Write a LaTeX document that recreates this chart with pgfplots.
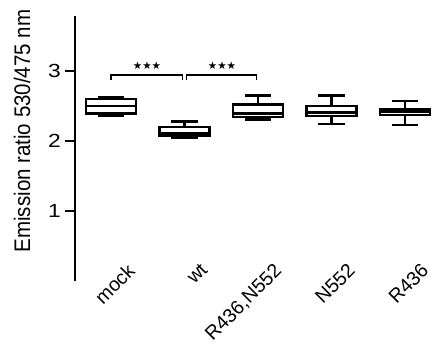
\documentclass[border=0pt]{standalone}
\usepackage{pgfplots}
\pgfplotsset{compat=1.18}
\usepgfplotslibrary{statistics}
\usepackage{fontspec}
\setmainfont{Liberation Sans}
\newfontfamily\symfont{DejaVu Sans}

\begin{document}
\begin{tikzpicture}
\begin{axis}[
  scale only axis, width=366.75pt, height=264.6pt,
  xmin=-0.49, xmax=4.5, ymin=0, ymax=3.78,
  axis y line*=left, axis x line*=bottom,
  x axis line style={draw=none},
  y axis line style={line width=2.2pt, -},
  ytick={1,2,3}, xtick={0,1,2,3,4},
  xticklabels={mock,wt,{R436,N552},N552,R436},
  tick align=outside, major tick length=10pt,
  ytick style={line width=2.2pt, black},
  xtick style={draw=none},
  /pgf/number format/assume math mode=true,
  yticklabel style={font=\fontsize{19}{19}\selectfont, inner sep=0pt, anchor=east, xshift=-4pt, xscale=1.2},
  xticklabel style={font=\fontsize{19.5}{19.5}\selectfont, inner sep=0pt, anchor=north east, xshift=15pt, yshift=29pt, rotate=45},
  ylabel={Emission ratio 530/475 nm},
  every axis y label/.style={at={(rel axis cs:0,0.567)}, xshift=-53pt, anchor=center, rotate=90, yscale=1.1, font=\fontsize{20.5}{20.5}\selectfont},
  boxplot/draw direction=y,
  boxplot/box extend=0.68,
  boxplot/whisker extend=0.36,
]
\addplot[boxplot prepared={draw position=0, lower whisker=2.36, lower quartile=2.39, median=2.50, upper quartile=2.60, upper whisker=2.63}, draw=black, fill=white, line width=2.5pt] coordinates {};
\addplot[boxplot prepared={draw position=1, lower whisker=2.05, lower quartile=2.07, median=2.11, upper quartile=2.20, upper whisker=2.28}, draw=black, fill=white, line width=2.5pt] coordinates {};
\addplot[boxplot prepared={draw position=2, lower whisker=2.31, lower quartile=2.34, median=2.39, upper quartile=2.52, upper whisker=2.65}, draw=black, fill=white, line width=2.5pt] coordinates {};
\addplot[boxplot prepared={draw position=3, lower whisker=2.24, lower quartile=2.36, median=2.41, upper quartile=2.50, upper whisker=2.65}, draw=black, fill=white, line width=2.5pt] coordinates {};
\addplot[boxplot prepared={draw position=4, lower whisker=2.23, lower quartile=2.37, median=2.42, upper quartile=2.46, upper whisker=2.57}, draw=black, fill=white, line width=2.5pt] coordinates {};
\addplot[black, line width=1.4pt] coordinates {(0,2.87) (0,2.94) (0.97,2.94) (0.97,2.87)};
\addplot[black, line width=1.4pt] coordinates {(1.03,2.87) (1.03,2.94) (1.98,2.94) (1.98,2.87)};
\node[font=\symfont\fontsize{10.5}{10.5}\selectfont] at (axis cs:0.49,3.07) {★★★};
\node[font=\symfont\fontsize{10.5}{10.5}\selectfont] at (axis cs:1.51,3.07) {★★★};
\end{axis}
\pgfresetboundingbox
\path (-75pt,-66pt) rectangle (368pt,281pt);
\end{tikzpicture}
\end{document}
